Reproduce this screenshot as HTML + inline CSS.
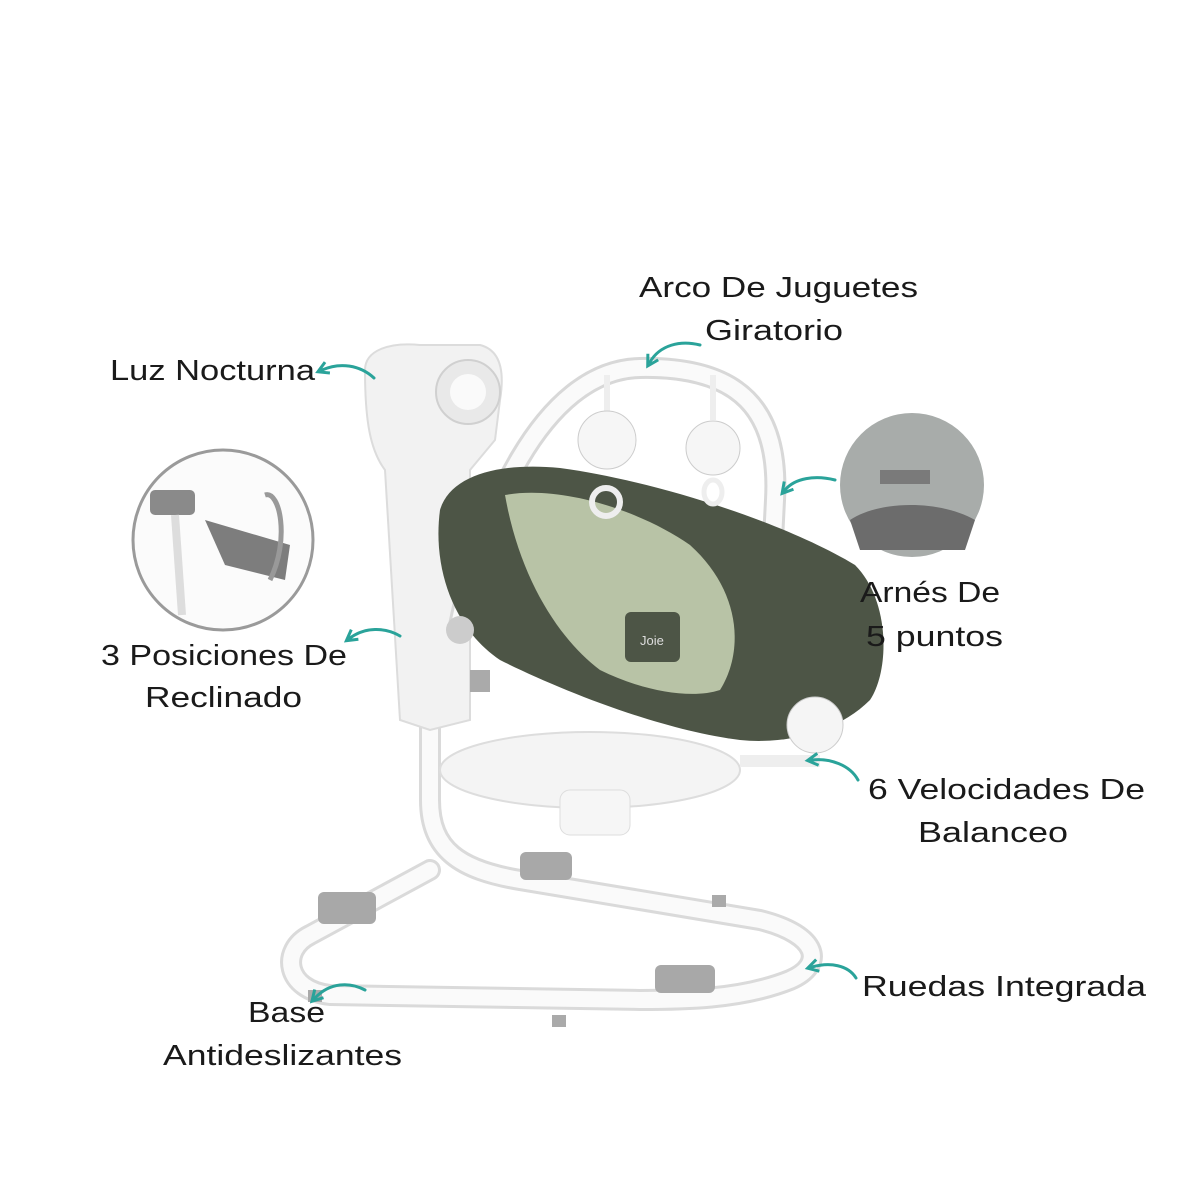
<!DOCTYPE html>
<html><head><meta charset="utf-8"><style>
html,body{margin:0;padding:0;background:#fff;}
svg{display:block}
text{font-family:"Liberation Sans","DejaVu Sans",sans-serif;font-size:29px;fill:#1a1a1a;}
</style></head><body>
<svg width="1200" height="1200" viewBox="0 0 1200 1200" xmlns="http://www.w3.org/2000/svg">
<defs>
<marker id="ah" viewBox="0 0 10 10" refX="5" refY="5" markerWidth="5" markerHeight="5" orient="auto-start-reverse">
<path d="M1,1 L8,5 L1,9" fill="none" stroke="#2aa39a" stroke-width="2"/>
</marker>
</defs>
<rect width="1200" height="1200" fill="#fff"/>

<!-- base loop -->
<path id="b" d="M430,720 L430,800 C430,850 460,870 520,880 L760,920 C820,935 825,965 790,980 C740,1000 680,1000 640,1000 L330,995 C285,990 280,950 310,935 L430,870" fill="none" stroke="#dadada" stroke-width="22" stroke-linecap="round" stroke-linejoin="round"/>
<path d="M430,720 L430,800 C430,850 460,870 520,880 L760,920 C820,935 825,965 790,980 C740,1000 680,1000 640,1000 L330,995 C285,990 280,950 310,935 L430,870" fill="none" stroke="#fafafa" stroke-width="16" stroke-linecap="round" stroke-linejoin="round"/>
<rect x="318" y="892" width="58" height="32" rx="6" fill="#a8a8a8"/>
<rect x="520" y="852" width="52" height="28" rx="6" fill="#a8a8a8"/>
<rect x="655" y="965" width="60" height="28" rx="6" fill="#a8a8a8"/>
<rect x="308" y="990" width="14" height="12" fill="#aaa"/>
<rect x="552" y="1015" width="14" height="12" fill="#aaa"/>
<rect x="712" y="895" width="14" height="12" fill="#aaa"/>

<!-- seat tray -->
<ellipse cx="590" cy="770" rx="150" ry="38" fill="#f4f4f4" stroke="#ddd" stroke-width="2"/>
<rect x="560" y="790" width="70" height="45" rx="10" fill="#f6f6f6" stroke="#ddd"/>

<!-- tower -->
<path d="M365,370 C365,350 390,342 420,345 L480,345 C500,350 505,370 500,400 L495,440 L470,470 L470,720 L430,730 L400,720 L385,470 C370,450 365,420 365,370 Z" fill="#f2f2f2" stroke="#dcdcdc" stroke-width="2"/>
<circle cx="468" cy="392" r="32" fill="#e9e9e9" stroke="#d0d0d0" stroke-width="2"/>
<circle cx="468" cy="392" r="18" fill="#fafafa"/>
<rect x="470" y="670" width="20" height="22" fill="#aaa"/>

<!-- arch -->
<path d="M458,630 C480,520 540,370 640,368 C740,366 780,410 775,500 L770,600" fill="none" stroke="#d8d8d8" stroke-width="22" stroke-linecap="round"/>
<path d="M458,630 C480,520 540,370 640,368 C740,366 780,410 775,500 L770,600" fill="none" stroke="#fafafa" stroke-width="16" stroke-linecap="round"/>

<!-- seat -->
<path d="M440,510 C450,475 500,462 560,468 C650,480 780,520 855,565 C890,600 890,670 870,700 C840,730 790,745 740,740 C660,730 560,690 500,660 C455,630 432,570 440,510 Z" fill="#4d5546"/>
<path d="M505,495 C560,485 640,510 690,545 C740,590 745,650 720,690 C690,700 640,690 600,670 C560,640 520,580 505,495 Z" fill="#b8c3a6"/>
<rect x="625" y="612" width="55" height="50" rx="6" fill="#4d5546"/>
<text x="640" y="645" style="font-size:13px;fill:#ddd">Joie</text>
<circle cx="460" cy="630" r="14" fill="#ccc"/>
<circle cx="815" cy="725" r="28" fill="#f5f5f5" stroke="#ccc"/>
<rect x="740" y="755" width="80" height="12" fill="#eee"/>

<!-- toys -->
<line x1="607" y1="375" x2="607" y2="412" stroke="#eee" stroke-width="6"/>
<line x1="713" y1="375" x2="713" y2="420" stroke="#eee" stroke-width="6"/>
<circle cx="607" cy="440" r="29" fill="#f6f6f6" stroke="#ccc"/>
<circle cx="713" cy="448" r="27" fill="#f6f6f6" stroke="#ccc"/>
<circle cx="606" cy="502" r="14" fill="none" stroke="#eee" stroke-width="6"/>
<ellipse cx="713" cy="492" rx="9" ry="12" fill="none" stroke="#eee" stroke-width="5"/>

<!-- left circle -->
<circle cx="223" cy="540" r="90" fill="#fbfbfb" stroke="#9a9a9a" stroke-width="3"/>
<rect x="150" y="490" width="45" height="25" rx="5" fill="#8a8a8a"/>
<line x1="175" y1="515" x2="182" y2="615" stroke="#ddd" stroke-width="8"/>
<path d="M205,520 L290,545 L285,580 L225,565 Z" fill="#7d7d7d"/>
<path d="M265,495 C280,490 290,540 270,580" fill="none" stroke="#999" stroke-width="5"/>

<!-- right circle -->
<circle cx="912" cy="485" r="72" fill="#a8acaa"/>
<path d="M850,520 C880,500 940,500 975,520 L965,550 L860,550 Z" fill="#6c6c6c"/>
<rect x="880" y="470" width="50" height="14" fill="#7a7a7a"/>

<!-- labels -->
<text x="639" y="297" textLength="279" lengthAdjust="spacingAndGlyphs">Arco De Juguetes</text>
<text x="705" y="340" textLength="138" lengthAdjust="spacingAndGlyphs">Giratorio</text>
<text x="110" y="380" textLength="205" lengthAdjust="spacingAndGlyphs">Luz Nocturna</text>
<text x="860" y="602" textLength="140" lengthAdjust="spacingAndGlyphs">Arnés De</text>
<text x="866" y="646" textLength="137" lengthAdjust="spacingAndGlyphs">5 puntos</text>
<text x="101" y="665" textLength="246" lengthAdjust="spacingAndGlyphs">3 Posiciones De</text>
<text x="145" y="707" textLength="157" lengthAdjust="spacingAndGlyphs">Reclinado</text>
<text x="868" y="799" textLength="277" lengthAdjust="spacingAndGlyphs">6 Velocidades De</text>
<text x="918" y="842" textLength="150" lengthAdjust="spacingAndGlyphs">Balanceo</text>
<text x="862" y="996" textLength="284" lengthAdjust="spacingAndGlyphs">Ruedas Integrada</text>
<text x="248" y="1022" textLength="77" lengthAdjust="spacingAndGlyphs">Base</text>
<text x="163" y="1065" textLength="239" lengthAdjust="spacingAndGlyphs">Antideslizantes</text>

<!-- arrows -->
<g fill="none" stroke="#2aa39a" stroke-width="3" stroke-linecap="round">
<path d="M374,378 C360,365 340,362 322,370" marker-end="url(#ah)"/>
<path d="M700,345 C680,340 660,345 650,362" marker-end="url(#ah)"/>
<path d="M835,480 C815,475 795,478 785,490" marker-end="url(#ah)"/>
<path d="M400,636 C385,627 365,627 350,638" marker-end="url(#ah)"/>
<path d="M858,780 C850,765 830,758 812,760" marker-end="url(#ah)"/>
<path d="M856,978 C848,965 830,962 812,967" marker-end="url(#ah)"/>
<path d="M365,990 C350,982 330,982 315,998" marker-end="url(#ah)"/>
</g>
</svg>
</body></html>
